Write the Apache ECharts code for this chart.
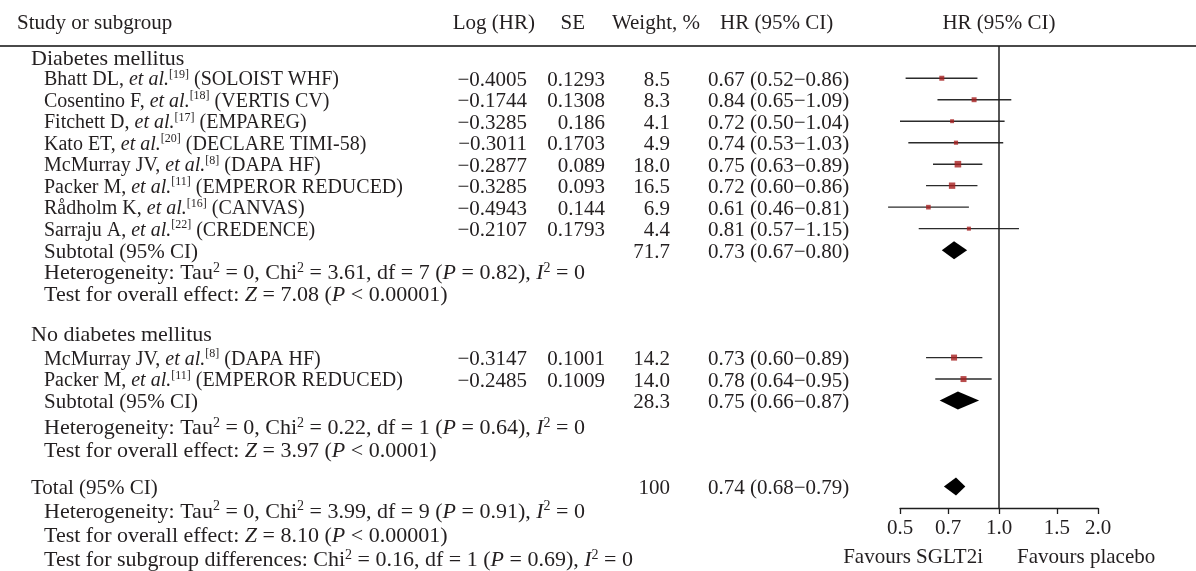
<!DOCTYPE html>
<html>
<head>
<meta charset="utf-8">
<script src="https://cdn.jsdelivr.net/npm/echarts@6/dist/echarts.min.js"></script>
<style>
  html, body { margin: 0; padding: 0; background: #ffffff; }
  #chart { width: 1196px; height: 571px; }
</style>
</head>
<body>
<div id="chart"></div>
<script>
// Forest plot: SGLT2 inhibitors and hazard ratio, by diabetes status

// ---- Diabetes mellitus ----
const dmAuthors = ['Bhatt DL', 'Cosentino F', 'Fitchett D', 'Kato ET', 'McMurray JV', 'Packer M', 'Rådholm K', 'Sarraju A'];
const dmRefs = ['19', '18', '17', '20', '8', '11', '16', '22'];
const dmTrials = ['SOLOIST WHF', 'VERTIS CV', 'EMPAREG', 'DECLARE TIMI-58', 'DAPA HF', 'EMPEROR REDUCED', 'CANVAS', 'CREDENCE'];
const dmLogHR = [-0.4005, -0.1744, -0.3285, -0.3011, -0.2877, -0.3285, -0.4943, -0.2107];
const dmSE = [0.1293, 0.1308, 0.186, 0.1703, 0.089, 0.093, 0.144, 0.1793];
const dmWeight = [8.5, 8.3, 4.1, 4.9, 18.0, 16.5, 6.9, 4.4];
const dmHR = [0.67, 0.84, 0.72, 0.74, 0.75, 0.72, 0.61, 0.81];
const dmLow = [0.52, 0.65, 0.50, 0.53, 0.63, 0.60, 0.46, 0.57];
const dmHigh = [0.86, 1.09, 1.04, 1.03, 0.89, 0.86, 0.81, 1.15];
const dmSubtotal = [71.7, 0.73, 0.67, 0.80]; // weight, HR, low, high

// ---- No diabetes mellitus ----
const ndAuthors = ['McMurray JV', 'Packer M'];
const ndRefs = ['8', '11'];
const ndTrials = ['DAPA HF', 'EMPEROR REDUCED'];
const ndLogHR = [-0.3147, -0.2485];
const ndSE = [0.1001, 0.1009];
const ndWeight = [14.2, 14.0];
const ndHR = [0.73, 0.78];
const ndLow = [0.60, 0.64];
const ndHigh = [0.89, 0.95];
const ndSubtotal = [28.3, 0.75, 0.66, 0.87];

// ---- Overall ----
const total = [100, 0.74, 0.68, 0.79];

// ---- Statistics lines ----
const dmHetero = ['3.61', '7', '0.82'];        // Chi², df, P
const dmEffect = ['7.08', '< 0.00001'];        // Z, P
const ndHetero = ['0.22', '1', '0.64'];
const ndEffect = ['3.97', '< 0.0001'];
const totHetero = ['3.99', '9', '0.91'];
const totEffect = ['8.10', '< 0.00001'];
const subgroupDiff = ['0.16', '1', '0.69'];

// ---- Axis ----
const hrTicks = [0.5, 0.7, 1.0, 1.5, 2.0];
const headers = ['Study or subgroup', 'Log (HR)', 'SE', 'Weight, %', 'HR (95% CI)', 'HR (95% CI)'];
const sideLabels = ['Favours SGLT2i', 'Favours placebo'];

const INK = '#231f20';
const SERIF = '"Liberation Serif", "Times New Roman", serif';
const FS = 21;          // table body
const FS_STUDY = 20;    // study names
const FS_NOTE = 22;     // group titles and statistics lines
const TEXT_DY = 2;      // optical centring of text on a row
const COL = { head: 17, group: 31, row: 44, logHR: 527, se: 605, weight: 670, ci: 708 };

const fmtNeg = v => (v < 0 ? '\u2212' : '') + String(Math.abs(v));
const fmtWeight = w => (w >= 100 ? String(w) : w.toFixed(1));
const fmtCI = (h, l, u) => h.toFixed(2) + ' (' + l.toFixed(2) + '\u2212' + u.toFixed(2) + ')';
const heteroText = a => 'Heterogeneity: Tau{s|2} = 0, Chi{s|2} = ' + a[0] + ', df = ' + a[1] + ' ({i|P} = ' + a[2] + '), {i|I}{s|2} = 0';
const effectText = a => 'Test for overall effect: {i|Z} = ' + a[0] + ' ({i|P} ' + a[1] + ')';

// ---- Row layout (vertical slots in row units below the header rule) ----
const textRows = [];   // {slot, x, align, text, size}
const points = [];     // [hr, slot, weight]
const whiskers = [];   // [low, high, slot]
const diamonds = [];   // [low, hr, high, slot]

let slot = 0.5;
function studyBlock(authors, refs, trials, logHR, se, weight, hr, low, high) {
  authors.forEach((a, i) => {
    slot += 1;
    textRows.push({ slot, x: COL.row, align: 'left', size: FS_STUDY, text: a + ', {i|et al.}{s|[' + refs[i] + ']} (' + trials[i] + ')' });
    textRows.push({ slot, x: COL.logHR, align: 'right', text: fmtNeg(logHR[i]) });
    textRows.push({ slot, x: COL.se, align: 'right', text: String(se[i]) });
    textRows.push({ slot, x: COL.weight, align: 'right', text: fmtWeight(weight[i]) });
    textRows.push({ slot, x: COL.ci, align: 'left', text: fmtCI(hr[i], low[i], high[i]) });
    points.push([hr[i], slot, weight[i]]);
    whiskers.push([low[i], high[i], slot]);
  });
}
function pooledRow(label, x, vals) {
  textRows.push({ slot, x, align: 'left', text: label });
  textRows.push({ slot, x: COL.weight, align: 'right', text: fmtWeight(vals[0]) });
  textRows.push({ slot, x: COL.ci, align: 'left', text: fmtCI(vals[1], vals[2], vals[3]) });
  diamonds.push([vals[2], vals[1], vals[3], slot]);
}
function noteRow(text, step) {
  slot += step;
  textRows.push({ slot, x: COL.row, align: 'left', size: FS_NOTE, text });
}

textRows.push({ slot, x: COL.group, align: 'left', size: FS_NOTE, text: 'Diabetes mellitus' });
studyBlock(dmAuthors, dmRefs, dmTrials, dmLogHR, dmSE, dmWeight, dmHR, dmLow, dmHigh);
slot += 1;
pooledRow('Subtotal (95% CI)', COL.row, dmSubtotal);
noteRow(heteroText(dmHetero), 1);
noteRow(effectText(dmEffect), 1);

slot += 1.85;
textRows.push({ slot, x: COL.group, align: 'left', size: FS_NOTE, text: 'No diabetes mellitus' });
slot += 0.15;
studyBlock(ndAuthors, ndRefs, ndTrials, ndLogHR, ndSE, ndWeight, ndHR, ndLow, ndHigh);
slot += 1;
pooledRow('Subtotal (95% CI)', COL.row, ndSubtotal);
noteRow(heteroText(ndHetero), 1.2);
noteRow(effectText(ndEffect), 1.05);

slot += 1.75;
pooledRow('Total (95% CI)', COL.group, total);
noteRow(heteroText(totHetero), 1.1);
noteRow(effectText(totEffect), 1.1);
noteRow('Test for subgroup differences: Chi{s|2} = ' + subgroupDiff[0] + ', df = ' + subgroupDiff[1] +
        ' ({i|P} = ' + subgroupDiff[2] + '), {i|I}{s|2} = 0', 1.15);

function richFor(size) {
  return {
    i: { fontStyle: 'italic', fontSize: size, fontFamily: SERIF, fill: INK, lineHeight: 24 },
    s: { fontSize: Math.round(size * 0.62), fontFamily: SERIF, fill: INK, lineHeight: 13, height: 13, verticalAlign: 'top' }
  };
}

const chart = echarts.init(document.getElementById('chart'), null, { renderer: 'canvas' });

chart.setOption({
  animation: false,
  backgroundColor: '#ffffff',
  grid: { left: 900, width: 198, top: 46, height: 462 },
  xAxis: {
    type: 'log',
    logBase: 2,
    min: 0.5,
    max: 2,
    position: 'bottom',
    axisLine: { show: true, onZero: false, lineStyle: { color: '#1e1e1e', width: 1.3 } },
    axisTick: { show: true, length: 6, lineStyle: { color: '#1e1e1e', width: 1.3 }, customValues: hrTicks },
    axisLabel: {
      customValues: hrTicks,
      formatter: v => Number(v).toFixed(1),
      fontFamily: SERIF, fontSize: FS, color: INK, margin: 10
    },
    splitLine: { show: false }
  },
  yAxis: {
    type: 'value',
    inverse: true,
    min: 0,
    max: 21.5,
    show: false
  },
  series: [
    {
      type: 'custom',
      silent: true,
      encode: { x: [0, 1], y: 2 },
      data: whiskers,
      renderItem: (params, api) => {
        const a = api.coord([api.value(0), api.value(2)]);
        const b = api.coord([api.value(1), api.value(2)]);
        return {
          type: 'line',
          shape: { x1: a[0], y1: a[1], x2: b[0], y2: b[1] },
          style: { stroke: '#2b2b2b', lineWidth: 1.4 }
        };
      }
    },
    {
      type: 'scatter',
      silent: true,
      symbol: 'rect',
      symbolSize: v => 1.2 * Math.sqrt(v[2]) + 1.5,
      itemStyle: { color: '#a61f1f' },
      data: points,
      markLine: {
        silent: true,
        symbol: 'none',
        label: { show: false },
        lineStyle: { color: '#1e1e1e', width: 1.5, type: 'solid' },
        data: [{ xAxis: 1 }]
      }
    },
    {
      type: 'custom',
      silent: true,
      encode: { x: [0, 1, 2], y: 3 },
      data: diamonds,
      renderItem: (params, api) => {
        const y = api.value(3);
        const l = api.coord([api.value(0), y]);
        const c = api.coord([api.value(1), y]);
        const r = api.coord([api.value(2), y]);
        const h = 9;
        return {
          type: 'polygon',
          shape: { points: [[l[0], l[1]], [c[0], c[1] - h], [r[0], r[1]], [c[0], c[1] + h]] },
          style: { fill: '#000000' }
        };
      }
    }
  ]
});

// Text table placed on the rows of the y axis
const yPix = s => chart.convertToPixel({ yAxisIndex: 0 }, s);
const xPix = v => chart.convertToPixel({ xAxisIndex: 0 }, v);

function textEl(x, y, text, align, size) {
  const fs = size || FS;
  return {
    type: 'text',
    x, y,
    silent: true,
    style: {
      text,
      rich: richFor(fs),
      fontSize: fs,
      fontFamily: SERIF,
      fill: INK,
      lineHeight: 24,
      align, verticalAlign: 'middle',
      textAlign: align, textVerticalAlign: 'middle'
    }
  };
}

const elements = [];
const headY = 23;
elements.push(textEl(COL.head, headY, headers[0], 'left'));
elements.push(textEl(535, headY, headers[1], 'right'));
elements.push(textEl(585, headY, headers[2], 'right'));
elements.push(textEl(700, headY, headers[3], 'right'));
elements.push(textEl(720, headY, headers[4], 'left'));
elements.push(textEl(xPix(1), headY, headers[5], 'center'));

const ruleY = yPix(0);
elements.push({
  type: 'line', silent: true,
  shape: { x1: 0, y1: ruleY, x2: 1196, y2: ruleY },
  style: { stroke: '#4a4a4a', lineWidth: 2 }
});

textRows.forEach(r => elements.push(textEl(r.x, yPix(r.slot) + TEXT_DY, r.text, r.align, r.size)));

const sideY = 557;
elements.push(textEl(xPix(1) - 16, sideY, sideLabels[0], 'right'));
elements.push(textEl(xPix(1) + 18, sideY, sideLabels[1], 'left'));

chart.setOption({ graphic: { elements } });
</script>
</body>
</html>
